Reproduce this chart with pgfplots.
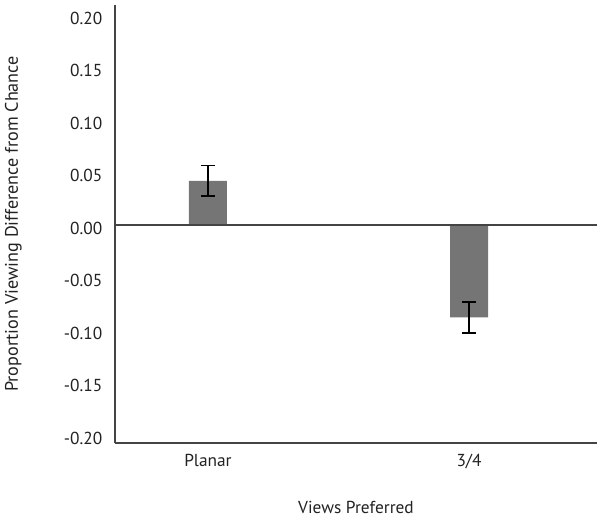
\documentclass[border=0pt]{standalone}
\usepackage{fontspec}
\setmainfont{PT Sans}
\usepackage{pgfplots}
\pgfplotsset{compat=1.18}

\definecolor{barfill}{HTML}{757575}
\definecolor{axisgray}{HTML}{444444}
\definecolor{txt}{HTML}{222222}

\begin{document}
\begin{tikzpicture}
\begin{axis}[
    scale only axis,
    width=361.5pt, height=328.5pt,
    xmin=-0.356, xmax=1.49,
    ymin=-0.2075, ymax=0.2095,
    axis lines*=left,
    axis line style={axisgray, line width=1.5pt},
    xtick={0,1},
    xticklabels={Planar, 3/4},
    ytick={-0.2,-0.15,...,0.21},
    major tick length=0pt,
    /pgf/number format/fixed,
    /pgf/number format/fixed zerofill,
    /pgf/number format/precision=2,
    /pgf/number format/assume math mode=true,
    ticklabel style={font=\fontsize{13}{15}\selectfont, text=txt},
    yticklabel style={xshift=-6pt, yshift=-2.25pt},
    xticklabel style={yshift=-5pt},
    label style={text=txt, inner sep=0pt},
    xlabel={Views Preferred},
    xlabel style={font=\fontsize{13}{15}\selectfont, at={(axis description cs:0.5,-0.148)}, anchor=center},
    ylabel={Proportion Viewing Difference from Chance},
    ylabel style={font=\fontsize{13.6}{15}\selectfont, at={(axis description cs:-0.193,0.5)}, anchor=south},
    clip=false,
]
\addplot[ybar, bar width=28.5pt, fill=barfill, draw=none,
    error bars/.cd, y dir=both, y explicit,
    error bar style={black, line width=1.2pt},
    error mark options={rotate=90, mark size=5.25pt, line width=1.2pt, black}]
    coordinates {
    (0, 0.042) +- (0, 0.0145)
    (1, -0.088) +- (0, 0.015)
};
\draw[axisgray, line width=1.5pt] (axis cs:-0.356,0) -- (axis cs:1.49,0);
\end{axis}
\useasboundingbox (-86.25pt,-57.75pt) rectangle (366.75pt,332.25pt);
\end{tikzpicture}
\end{document}
